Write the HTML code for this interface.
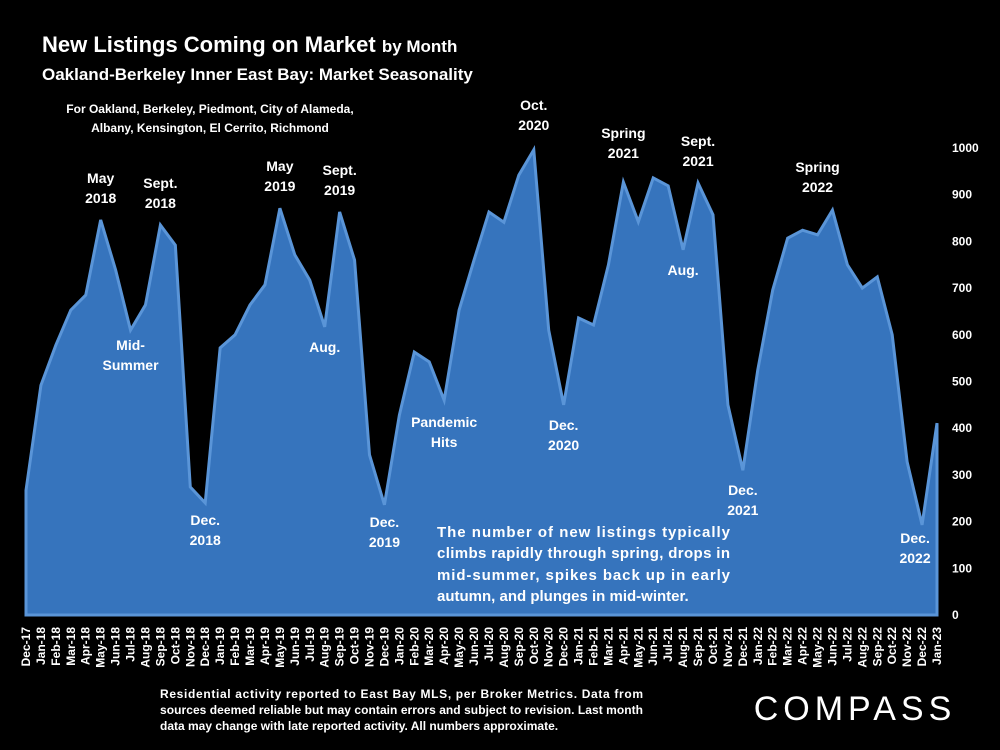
<!DOCTYPE html>
<html><head><meta charset="utf-8"><style>
body{margin:0;background:#000;width:1000px;height:750px;overflow:hidden;font-family:"Liberation Sans",sans-serif;color:#fff}
svg{position:absolute;left:0;top:0}
</style></head><body>
<svg width="1000" height="750" font-family="Liberation Sans, sans-serif">
<text x="42" y="52" font-size="22" font-weight="bold" fill="#fff">New Listings Coming on Market <tspan font-size="17">by Month</tspan></text>
<text x="42" y="80" font-size="17" font-weight="bold" fill="#fff">Oakland-Berkeley Inner East Bay: Market Seasonality</text>
<text x="210" y="113" font-size="12" font-weight="bold" fill="#fff" text-anchor="middle">For Oakland, Berkeley, Piedmont, City of Alameda,</text>
<text x="210" y="132" font-size="12" font-weight="bold" fill="#fff" text-anchor="middle">Albany, Kensington, El Cerrito, Richmond</text>
<g id="plot"></g>
<g id="annots" font-size="14" font-weight="bold" fill="#fff" text-anchor="middle"></g>
<g font-size="15" font-weight="bold" fill="#fff">
<text x="437" y="537" textLength="293" lengthAdjust="spacing">The number of new listings typically</text>
<text x="437" y="558" textLength="293" lengthAdjust="spacing">climbs rapidly through spring, drops in</text>
<text x="437" y="580" textLength="293" lengthAdjust="spacing">mid-summer, spikes back up in early</text>
<text x="437" y="601">autumn, and plunges in mid-winter.</text>
</g>
<g font-size="12" font-weight="bold" fill="#fff">
<text x="160" y="698" textLength="483" lengthAdjust="spacing">Residential activity reported to East Bay MLS, per Broker Metrics. Data from</text>
<text x="160" y="714" textLength="483" lengthAdjust="spacing">sources deemed reliable but may contain errors and subject to revision. Last month</text>
<text x="160" y="730">data may change with late reported activity. All numbers approximate.</text>
</g>
<text x="855" y="720" font-size="34" fill="#fff" text-anchor="middle" letter-spacing="5">COMPASS</text>
</svg>
<script>
const categories=["Dec-17","Jan-18","Feb-18","Mar-18","Apr-18","May-18","Jun-18","Jul-18","Aug-18","Sep-18","Oct-18","Nov-18","Dec-18","Jan-19","Feb-19","Mar-19","Apr-19","May-19","Jun-19","Jul-19","Aug-19","Sep-19","Oct-19","Nov-19","Dec-19","Jan-20","Feb-20","Mar-20","Apr-20","May-20","Jun-20","Jul-20","Aug-20","Sep-20","Oct-20","Nov-20","Dec-20","Jan-21","Feb-21","Mar-21","Apr-21","May-21","Jun-21","Jul-21","Aug-21","Sep-21","Oct-21","Nov-21","Dec-21","Jan-22","Feb-22","Mar-22","Apr-22","May-22","Jun-22","Jul-22","Aug-22","Sep-22","Oct-22","Nov-22","Dec-22","Jan-23"];
const newListings=[267,492,578,653,685,846,739,610,664,835,792,274,240,572,600,664,707,871,771,717,617,863,760,343,236,428,563,542,460,653,760,863,841,942,996,610,450,636,621,750,927,842,936,919,782,925,857,450,310,525,696,807,824,814,867,750,700,724,600,328,193,411];
const yTicks=[0,100,200,300,400,500,600,700,800,900,1000];
const annotations=[["May-18",["May","2018"],-17],["Sep-18",["Sept.","2018"],-17],["Jul-18",["Mid-","Summer"],20],["Dec-18",["Dec.","2018"],22],["May-19",["May","2019"],-17],["Sep-19",["Sept.","2019"],-17],["Aug-19",["Aug."],25],["Dec-19",["Dec.","2019"],22],["Apr-20",["Pandemic","Hits"],27],["Oct-20",["Oct.","2020"],-20],["Dec-20",["Dec.","2020"],25],["Apr-21",["Spring","2021"],-24],["Sep-21",["Sept.","2021"],-17],["Aug-21",["Aug."],25],["Dec-21",["Dec.","2021"],25],["May-22",["Spring","2022"],-43],["Dec-22",["Dec.","2022"],18]];
const NS="http://www.w3.org/2000/svg";
const x0=26,x1=937,yb=615,yt=148;
const xS=i=>x0+i*(x1-x0)/(categories.length-1);
const yS=v=>yb-v*(yb-yt)/1000;
const plot=document.getElementById('plot');
let d=`M${xS(0)},${yb}`;
newListings.forEach((v,i)=>d+=` L${xS(i)},${yS(v)}`);
d+=` L${xS(newListings.length-1)},${yb} Z`;
const area=document.createElementNS(NS,'path');
area.setAttribute('d',d);area.setAttribute('fill','#3674bd');area.setAttribute('stroke','#5a95d8');area.setAttribute('stroke-width','3');


plot.appendChild(area);
yTicks.forEach(t=>{const e=document.createElementNS(NS,'text');e.setAttribute('x',952);e.setAttribute('y',yS(t)+4);e.setAttribute('font-size','12');e.setAttribute('font-weight','bold');e.setAttribute('fill','#fff');e.textContent=t;


plot.appendChild(e);});
categories.forEach((c,i)=>{const e=document.createElementNS(NS,'text');const x=xS(i)+4;e.setAttribute('transform',`translate(${x},627) rotate(-90)`);e.setAttribute('text-anchor','end');e.setAttribute('font-size','12');e.setAttribute('font-weight','bold');e.setAttribute('fill','#fff');e.textContent=c;


plot.appendChild(e);});
const an=document.getElementById('annots');
annotations.forEach(a=>{const i=categories.indexOf(a[0]);const v=newListings[i];const lines=a[1];const off=a[2];
const baseY=off<0?yS(v)+off-(lines.length-1)*20:yS(v)+off;
lines.forEach((l,k)=>{const e=document.createElementNS(NS,'text');e.setAttribute('x',xS(i)-(a[0]==="Dec-22"?7:0));e.setAttribute('y',baseY+k*20);e.textContent=l;


an.appendChild(e);});});
</script>
</body></html>
